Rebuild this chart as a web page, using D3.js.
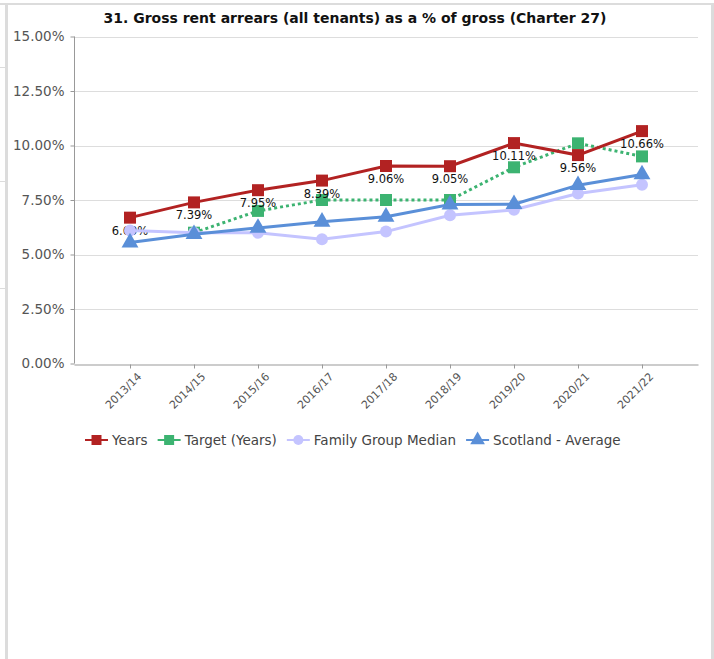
<!DOCTYPE html>
<html>
<head>
<meta charset="utf-8">
<script src="https://cdn.jsdelivr.net/npm/d3@7"></script>
<style>
  html, body { margin: 0; padding: 0; background: #fff; }
  svg { display: block; font-family: "DejaVu Sans", Verdana, sans-serif; }
</style>
</head>
<body>
<svg id="chart" width="714" height="659"></svg>
<script>
const years = ['2013/14', '2014/15', '2015/16', '2016/17', '2017/18', '2018/19', '2019/20', '2020/21', '2021/22'];
const yearsValues = [6.69, 7.39, 7.95, 8.39, 9.06, 9.05, 10.11, 9.56, 10.66];
const targetValues = [null, 6.0, 7.0, 7.5, 7.5, 7.5, 9.0, 10.1, 9.5];
const medianValues = [6.1, 6.0, 6.0, 5.7, 6.05, 6.8, 7.05, 7.8, 8.2];
const scotlandValues = [5.55, 5.93, 6.22, 6.5, 6.73, 7.29, 7.31, 8.18, 8.67];
const yTicks = [0, 2.5, 5, 7.5, 10, 12.5, 15];
const title = '31. Gross rent arrears (all tenants) as a % of gross (Charter 27)';

const series = [
	{ name: 'Years', values: yearsValues, color: '#b22222', marker: 'square', labels: true },
	{ name: 'Target (Years)', values: targetValues, color: '#3cb371', marker: 'square', dash: '3,3' },
	{ name: 'Family Group Median', values: medianValues, color: '#c4c4ff', marker: 'circle' },
	{ name: 'Scotland - Average', values: scotlandValues, color: '#5a8fd8', marker: 'triangle' }
];
// drawing order (later on top)
const drawOrder = [1, 0, 2, 3];

const svg = d3.select('#chart');

// panel frame
const frame = svg.append('g').attr('fill', '#dcdcdc');
frame.append('rect').attr('x', 0).attr('y', 3).attr('width', 714).attr('height', 2);
frame.append('rect').attr('x', 5).attr('y', 3).attr('width', 3).attr('height', 656);
frame.append('rect').attr('x', 711).attr('y', 3).attr('width', 3).attr('height', 656);
frame.append('rect').attr('x', 0).attr('y', 67).attr('width', 5).attr('height', 1);
frame.append('rect').attr('x', 0).attr('y', 181).attr('width', 5).attr('height', 1);
frame.append('rect').attr('x', 0).attr('y', 288).attr('width', 5).attr('height', 1);

const margins = { left: 74, right: 16, top: 36.5, bottom: 295.5 };
const x = d3.scalePoint()
	.domain(years)
	.range([margins.left, 714 - margins.right])
	.padding(0.875);
const y = d3.scaleLinear()
	.domain([0, 15])
	.range([659 - margins.bottom, margins.top]);

// title
svg.append('text')
	.attr('x', 355)
	.attr('y', 23)
	.attr('text-anchor', 'middle')
	.attr('font-weight', 'bold')
	.attr('font-size', 14)
	.attr('fill', '#111')
	.text(title);

// gridlines
svg.append('g').selectAll('line')
	.data(yTicks.filter(d => d > 0))
	.join('line')
	.attr('x1', margins.left)
	.attr('x2', 714 - margins.right)
	.attr('y1', d => Math.round(y(d)) + 0.5)
	.attr('y2', d => Math.round(y(d)) + 0.5)
	.attr('stroke', '#dddddd');

// y axis
const yAxis = svg.append('g')
	.attr('transform', 'translate(' + (margins.left + 0.5) + ',0)')
	.call(d3.axisLeft(y).tickValues(yTicks).tickSize(4).tickFormat(d => d.toFixed(2) + '%'));
yAxis.select('.domain').attr('stroke', '#999').attr('d', 'M0,' + y(15) + 'V' + y(0));
yAxis.selectAll('.tick line').attr('stroke', '#999');
yAxis.selectAll('.tick text')
	.attr('font-family', '"DejaVu Sans", Verdana, sans-serif')
	.attr('font-size', 13.5)
	.attr('fill', '#555')
	.attr('x', -10);

// x axis
const xAxis = svg.append('g')
	.attr('transform', 'translate(0,' + (Math.round(y(0)) + 0.5) + ')')
	.call(d3.axisBottom(x).tickSize(4).tickSizeOuter(0));
xAxis.select('.domain').attr('stroke', '#999');
xAxis.selectAll('.tick line').attr('stroke', '#999');
xAxis.selectAll('.tick text')
	.attr('font-family', '"DejaVu Sans", Verdana, sans-serif')
	.attr('font-size', 11)
	.attr('fill', '#555')
	.attr('text-anchor', 'end')
	.attr('dy', '0.35em')
	.attr('transform', 'translate(9,10) rotate(-45)')
	.attr('y', 0)
	.attr('x', 0);

function markerPath(type, size) {
	if (type === 'square') return d3.symbol(d3.symbolSquare, size * size)();
	if (type === 'circle') return d3.symbol(d3.symbolCircle, Math.PI * (size / 2) * (size / 2))();
	return d3.symbol(d3.symbolTriangle, size * size * 0.55)();
}

const line = d3.line()
	.defined(d => d != null)
	.x((d, i) => x(years[i]))
	.y(d => y(d));

const plot = svg.append('g');
drawOrder.forEach(function (k) {
	const s = series[k];
	const g = plot.append('g');
	g.append('path')
		.attr('d', line(s.values))
		.attr('fill', 'none')
		.attr('stroke', s.color)
		.attr('stroke-width', 3)
		.attr('stroke-dasharray', s.dash || null);
	g.selectAll('.pt')
		.data(s.values.map((v, i) => ({ v: v, i: i })).filter(d => d.v != null))
		.join('path')
		.attr('class', 'pt')
		.attr('transform', d => 'translate(' + x(years[d.i]) + ',' + y(d.v) + ')')
		.attr('d', markerPath(s.marker, s.marker === 'triangle' ? 15 : 12))
		.attr('fill', s.color);
	if (s.labels) {
		g.selectAll('.lbl')
			.data(s.values.map((v, i) => ({ v: v, i: i })))
			.join('text')
			.attr('class', 'lbl')
			.attr('x', d => x(years[d.i]))
			.attr('y', d => y(d.v) + 17)
			.attr('text-anchor', 'middle')
			.attr('font-size', 11.5)
			.attr('fill', '#111')
			.text(d => d.v.toFixed(2) + '%');
	}
});

// legend
const legend = svg.append('g').attr('transform', 'translate(85,440)');
let lx = 0;
series.forEach(function (s) {
	const item = legend.append('g').attr('transform', 'translate(' + lx + ',0)');
	item.append('line')
		.attr('x1', 0).attr('x2', 23)
		.attr('y1', 0).attr('y2', 0)
		.attr('stroke', s.color)
		.attr('stroke-width', 2);
	item.append('path')
		.attr('transform', 'translate(11.5,0)')
		.attr('d', markerPath(s.marker, s.marker === 'triangle' ? 13 : 10))
		.attr('fill', s.color);
	const t = item.append('text')
		.attr('x', 27)
		.attr('dy', '0.35em')
		.attr('font-size', 13.5)
		.attr('fill', '#444')
		.text(s.name);
	lx += 27 + t.node().getComputedTextLength() + 10;
});
</script>
</body>
</html>
